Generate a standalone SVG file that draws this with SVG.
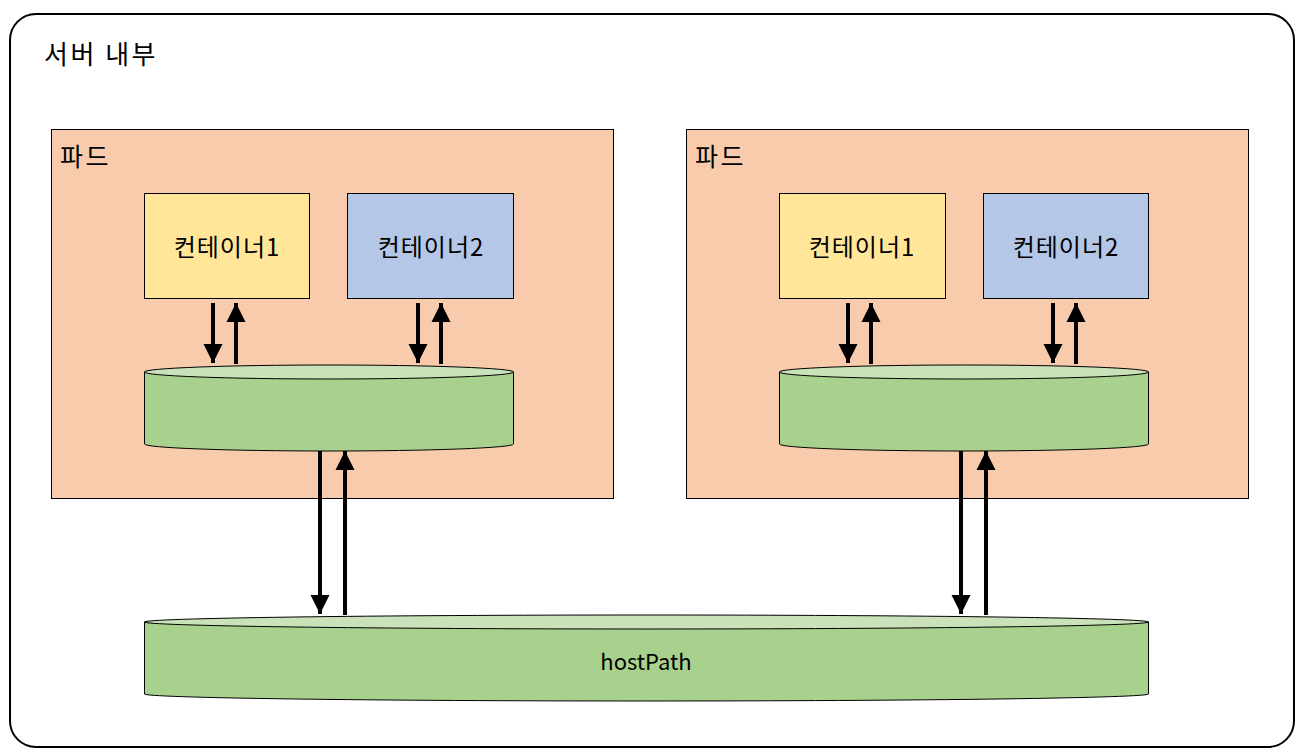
<svg xmlns="http://www.w3.org/2000/svg" width="1310" height="756" viewBox="0 0 1310 756">
<defs>
<style>
.t{font-family:"Noto Sans CJK KR","Noto Sans",sans-serif;fill:#000}
.lbl{font-size:24px;letter-spacing:1px}
.pod{fill:#f8cbad;stroke:#000;stroke-width:1}
.c1{fill:#ffe699;stroke:#000;stroke-width:1}
.c2{fill:#b4c7e7;stroke:#000;stroke-width:1}
.cyl{fill:#a9d18e;stroke:#000;stroke-width:1}
.cyltop{fill:#c9e2b9;stroke:#000;stroke-width:1}
.ar{stroke:#000;stroke-width:4;fill:none}
</style>
<marker id="ah" viewBox="0 0 10 10" refX="10" refY="5" markerWidth="4.8" markerHeight="4.8" markerUnits="strokeWidth" orient="auto">
<path d="M0,0 L10,5 L0,10 Z" fill="#000"/>
</marker>
</defs>
<rect width="1310" height="756" fill="#fff"/>
<g id="server">
<rect x="10" y="14" width="1284" height="733" rx="26" ry="26" fill="#fff" stroke="#000" stroke-width="2"/>
<text class="t" x="44" y="64" font-size="26" letter-spacing="2.5">서버 내부</text>
</g>
<g id="pod-left">
<rect class="pod" x="51.5" y="129.5" width="562" height="369"/>
<text class="t" x="60" y="166" font-size="25" letter-spacing="2.5">파드</text>
</g>
<g id="pod-right">
<rect class="pod" x="686.5" y="129.5" width="562" height="369"/>
<text class="t" x="695" y="166" font-size="25" letter-spacing="2.5">파드</text>
</g>
<g id="left-container1">
<rect class="c1" x="144.5" y="193.5" width="165" height="105"/>
<text class="t lbl" x="227" y="256" text-anchor="middle">컨테이너1</text>
</g>
<g id="left-container2">
<rect class="c2" x="347.5" y="193.5" width="166" height="105"/>
<text class="t lbl" x="431" y="256" text-anchor="middle">컨테이너2</text>
</g>
<g id="right-container1">
<rect class="c1" x="779.5" y="193.5" width="166" height="105"/>
<text class="t lbl" x="862" y="256" text-anchor="middle">컨테이너1</text>
</g>
<g id="right-container2">
<rect class="c2" x="983.5" y="193.5" width="165" height="105"/>
<text class="t lbl" x="1066" y="256" text-anchor="middle">컨테이너2</text>
</g>
<g id="left-volume">
<path class="cyl" d="M144.5,372 L144.5,444 A184.5,7 0 0 0 513.5,444 L513.5,372 Z"/>
<ellipse class="cyltop" cx="329" cy="372" rx="184.5" ry="7"/>
</g>
<g id="right-volume">
<path class="cyl" d="M779.5,372 L779.5,444 A184.5,7 0 0 0 1148.5,444 L1148.5,372 Z"/>
<ellipse class="cyltop" cx="964" cy="372" rx="184.5" ry="7"/>
</g>
<g id="hostpath">
<path class="cyl" d="M144.5,622 L144.5,694 A502,7 0 0 0 1148.5,694 L1148.5,622 Z"/>
<ellipse class="cyltop" cx="646.5" cy="622" rx="502" ry="7"/>
<text class="t" x="646" y="670" font-size="22" text-anchor="middle">hostPath</text>
</g>
<g id="connectors">
<line class="ar" x1="213" y1="303" x2="213" y2="363" marker-end="url(#ah)"/>
<line class="ar" x1="236" y1="364" x2="236" y2="303" marker-end="url(#ah)"/>
<line class="ar" x1="418" y1="303" x2="418" y2="363" marker-end="url(#ah)"/>
<line class="ar" x1="441" y1="364" x2="441" y2="303" marker-end="url(#ah)"/>
<line class="ar" x1="848" y1="303" x2="848" y2="363" marker-end="url(#ah)"/>
<line class="ar" x1="871" y1="364" x2="871" y2="303" marker-end="url(#ah)"/>
<line class="ar" x1="1053" y1="303" x2="1053" y2="363" marker-end="url(#ah)"/>
<line class="ar" x1="1076" y1="364" x2="1076" y2="303" marker-end="url(#ah)"/>
<line class="ar" x1="320" y1="451" x2="320" y2="614" marker-end="url(#ah)"/>
<line class="ar" x1="345" y1="615" x2="345" y2="451" marker-end="url(#ah)"/>
<line class="ar" x1="961" y1="451" x2="961" y2="614" marker-end="url(#ah)"/>
<line class="ar" x1="986" y1="615" x2="986" y2="451" marker-end="url(#ah)"/>
</g>
</svg>
